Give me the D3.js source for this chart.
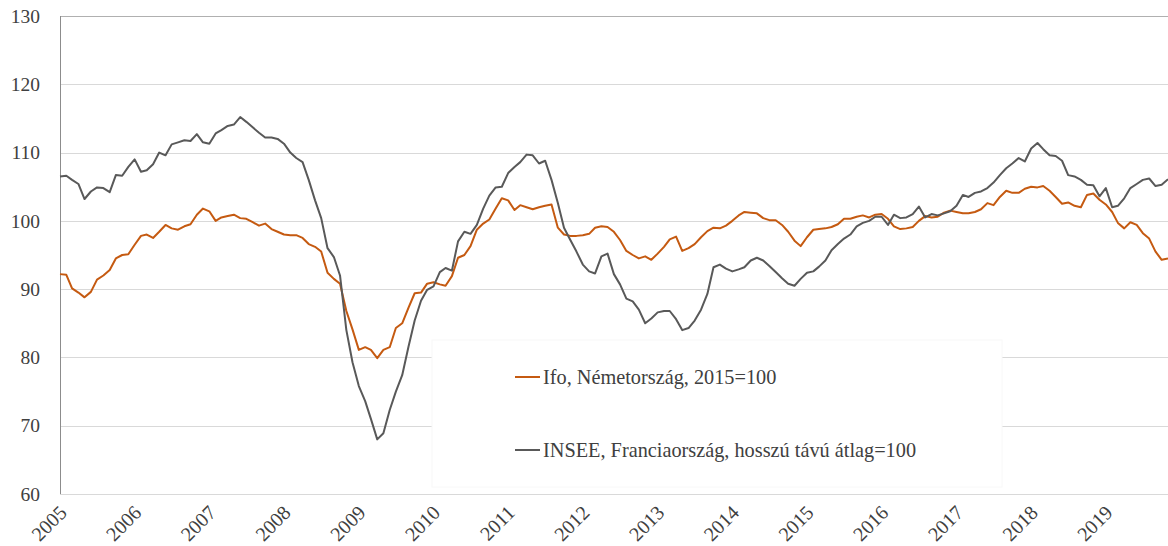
<!DOCTYPE html>
<html>
<head>
<meta charset="utf-8">
<script src="https://cdn.jsdelivr.net/npm/d3@7"></script>
<style>
  html, body { margin: 0; padding: 0; background: #fff; }
  svg { display: block; }
  text { font-family: "Liberation Serif", "DejaVu Serif", serif; fill: #404040; }
</style>
</head>
<body>
<svg id="chart" width="1168" height="546"></svg>
<script>
// ---- data (monthly, Jan 2005 – Nov 2019) ----
const startMonth = "2005-01";
const endMonth = "2019-11";
const yearLabels = ["2005","2006","2007","2008","2009","2010","2011","2012","2013","2014","2015","2016","2017","2018","2019"];
const yTickValues = [60, 70, 80, 90, 100, 110, 120, 130];
const seriesNames = ["Ifo, Németország, 2015=100", "INSEE, Franciaország, hosszú távú átlag=100"];

const ifo = [
  92.2, 92.1, 90.1, 89.5, 88.8, 89.6, 91.4, 92.0, 92.8, 94.5, 95.0, 95.1,
  96.5, 97.8, 98.0, 97.5, 98.4, 99.4, 98.9, 98.7, 99.2, 99.5, 100.9, 101.8,
  101.4, 100.0, 100.5, 100.7, 100.9, 100.4, 100.3, 99.8, 99.3, 99.6, 98.8, 98.4,
  98.0, 97.9, 97.9, 97.5, 96.6, 96.2, 95.5, 92.4, 91.5, 90.8, 86.8, 84.1,
  81.1, 81.5, 81.1, 79.9, 81.1, 81.5, 84.3, 85.0, 87.3, 89.4, 89.5, 90.8,
  91.0, 90.7, 90.5, 91.9, 94.6, 95.0, 96.3, 98.7, 99.6, 100.2, 101.8, 103.3,
  103.0, 101.6, 102.3, 102.0, 101.7, 102.0, 102.2, 102.4, 99.0, 98.0, 97.8, 97.8,
  97.9, 98.1, 99.0, 99.2, 99.1, 98.4, 97.2, 95.6, 95.0, 94.5, 94.8, 94.3,
  95.2, 96.2, 97.3, 97.7, 95.6, 96.0, 96.6, 97.6, 98.5, 99.0, 98.9, 99.3,
  100.0, 100.8, 101.3, 101.2, 101.1, 100.4, 100.1, 100.1, 99.4, 98.4, 97.1, 96.3,
  97.6, 98.7, 98.8, 98.9, 99.1, 99.5, 100.3, 100.3, 100.6, 100.8, 100.5, 100.9,
  101.0, 100.3, 99.2, 98.8, 98.9, 99.1, 100.0, 100.7, 100.5, 100.6, 101.2, 101.5,
  101.3, 101.1, 101.1, 101.3, 101.7, 102.6, 102.3, 103.5, 104.4, 104.1, 104.1, 104.7,
  105.0, 104.9, 105.1, 104.4, 103.5, 102.5, 102.7, 102.2, 102.0, 103.8, 104.0, 103.1,
  102.4, 101.3, 99.7, 98.9, 99.8, 99.4, 98.2, 97.4, 95.5, 94.3, 94.5
];

const insee = [
  106.5, 106.6, 106.0, 105.4, 103.2, 104.3, 104.9, 104.8, 104.2, 106.7, 106.6, 107.9,
  109.0, 107.2, 107.4, 108.3, 110.0, 109.6, 111.2, 111.5, 111.8, 111.7, 112.7, 111.5,
  111.3, 112.8, 113.3, 113.9, 114.1, 115.2, 114.5, 113.7, 112.9, 112.2, 112.2, 112.0,
  111.3, 110.0, 109.2, 108.6, 106.0, 103.0, 100.4, 96.0, 94.7, 92.0, 84.0, 79.3,
  75.8, 73.6, 71.0, 68.0, 68.9, 72.3, 75.0, 77.4, 81.6, 85.4, 88.3, 89.9,
  90.4, 92.5, 93.1, 92.7, 97.0, 98.4, 98.1, 99.4, 101.8, 103.7, 104.9, 105.0,
  107.0, 107.9, 108.6, 109.7, 109.6, 108.4, 108.8, 106.0, 102.6, 99.0, 97.2, 95.5,
  93.6, 92.6, 92.3, 94.8, 95.2, 92.2, 90.7, 88.6, 88.2, 87.0, 85.0, 85.7,
  86.6, 86.8, 86.8, 85.6, 84.0, 84.3, 85.4, 87.0, 89.3, 93.2, 93.6, 93.0,
  92.6, 92.9, 93.2, 94.2, 94.6, 94.2, 93.4, 92.5, 91.6, 90.8, 90.5, 91.5,
  92.4, 92.6, 93.3, 94.2, 95.7, 96.6, 97.4, 98.0, 99.2, 99.7, 100.0, 100.6,
  100.6, 99.4, 100.9, 100.4, 100.5, 101.0, 102.1, 100.5, 101.0, 100.8, 101.1, 101.4,
  102.2, 103.8, 103.5, 104.1, 104.3, 104.8, 105.6, 106.7, 107.7, 108.4, 109.2, 108.7,
  110.6, 111.4, 110.5, 109.6, 109.5, 108.8, 106.7, 106.5, 106.0, 105.3, 105.2, 103.6,
  104.8, 102.0, 102.2, 103.3, 104.8, 105.4, 106.0, 106.2, 105.1, 105.3, 106.1
];

const colors = ["#C55A11", "#595959"];

// ---- chart ----
const svg = d3.select("#chart");
const W = 1168, H = 546;
const m = { left: 60, right: 0, top: 16, bottom: 52 };

const parse = d3.timeParse("%Y-%m");
const months = d3.timeMonth.range(parse(startMonth), d3.timeMonth.offset(parse(endMonth), 1));

const x = d3.scaleTime()
  .domain([months[0], months[months.length - 1]])
  .range([m.left, W - m.right]);
const y = d3.scaleLinear().domain([60, 130]).range([H - m.bottom, m.top]);

// gridlines
svg.append("g")
  .selectAll("line")
  .data(yTickValues)
  .join("line")
  .attr("x1", m.left).attr("x2", W - m.right)
  .attr("y1", d => Math.round(y(d)) + 0.5).attr("y2", d => Math.round(y(d)) + 0.5)
  .attr("stroke", d => d === 130 ? "#b0b0b0" : "#d9d9d9")
  .attr("stroke-width", 1);

// y axis
const yAxis = d3.axisLeft(y).tickValues(yTickValues).tickSize(0).tickPadding(20);
const gy = svg.append("g").attr("transform", `translate(${m.left},0)`).call(yAxis);
gy.select(".domain").attr("stroke", "#8c8c8c").attr("d", `M0.5,${y(130)}V${y(60)}`);
gy.selectAll("text").style("font-size", "19.5px").attr("fill", "#404040")
  .style("font-family", "'Liberation Serif', serif");

// x axis labels (one per January)
const yearDates = yearLabels.map(s => parse(s + "-01"));
const gx = svg.append("g");
gx.selectAll("text")
  .data(yearDates)
  .join("text")
  .attr("transform", d => `translate(${x(d) + 3},${H - m.bottom + 15}) rotate(-45)`)
  .attr("text-anchor", "end")
  .attr("dy", "0.35em")
  .style("font-size", "20px")
  .text((d, i) => yearLabels[i]);

// legend box (covers lower gridlines)
const legX = 432, legY = 340, legW = 570, legH = 147;
svg.append("rect")
  .attr("x", legX).attr("y", legY).attr("width", legW).attr("height", legH)
  .attr("fill", "#ffffff").attr("stroke", "#f8f8f8");

// lines
const line = d3.line().x((d, i) => x(months[i])).y(d => y(d));
[ifo, insee].forEach((s, k) => {
  svg.append("path")
    .datum(s)
    .attr("d", line)
    .attr("fill", "none")
    .attr("stroke", colors[k])
    .attr("stroke-width", 2)
    .attr("stroke-linejoin", "round");
});

// legend items
const legItems = [{ y: 377 }, { y: 450 }];
legItems.forEach((it, k) => {
  svg.append("line")
    .attr("x1", 515).attr("x2", 540)
    .attr("y1", it.y).attr("y2", it.y)
    .attr("stroke", colors[k]).attr("stroke-width", 2);
  svg.append("text")
    .attr("x", 543).attr("y", it.y)
    .attr("dy", "0.35em")
    .style("font-size", "20.3px")
    .text(seriesNames[k]);
});
</script>
</body>
</html>
